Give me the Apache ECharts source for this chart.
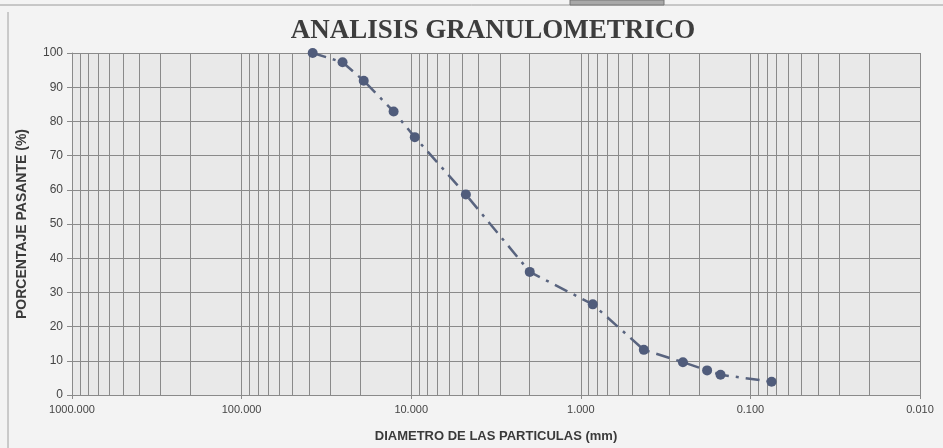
<!DOCTYPE html>
<html>
<head>
<meta charset="utf-8">
<script src="https://cdn.jsdelivr.net/npm/echarts@6/dist/echarts.min.js"></script>
<style>
  html, body { margin: 0; padding: 0; background: #f3f3f3; }
  #chart { width: 943px; height: 448px; }
</style>
</head>
<body>
<div id="chart"></div>
<script>
// Sieve openings (mm) and cumulative percent passing
const diametros = [38.1, 25.4, 19.05, 12.7, 9.525, 4.76, 2.0, 0.85, 0.425, 0.25, 0.18, 0.15, 0.075];
const pasante   = [100, 97.3, 91.9, 82.9, 75.4, 58.6, 36.0, 26.5, 13.2, 9.6, 7.2, 5.9, 3.9];

// Log-paper vertical rulings: 2..9 times each decade between 0.01 and 1000
const decadas = [0.01, 0.1, 1, 10, 100];
const multiplos = [2, 3, 4, 5, 6, 7, 8, 9];

const rulings = [];
decadas.forEach(d => multiplos.forEach(m => rulings.push({ xAxis: +(m * d).toPrecision(6) })));

const chart = echarts.init(document.getElementById('chart'), null, { renderer: 'canvas' });

const gridColor = '#8a8a8a';
const textColor = '#454545';

chart.setOption({
  backgroundColor: '#f3f3f3',
  animation: false,
  title: {
    text: 'ANALISIS GRANULOMETRICO',
    left: 488,
    textAlign: 'center',
    top: 13,
    textStyle: {
      fontFamily: 'Liberation Serif',
      fontWeight: 'bold',
      fontSize: 27,
      color: '#3d3d3d'
    }
  },
  graphic: [
    { type: 'line', shape: { x1: 0, y1: 5, x2: 943, y2: 5 }, style: { stroke: '#9a9a9a', lineWidth: 1 } },
    { type: 'line', shape: { x1: 8, y1: 12, x2: 8, y2: 448 }, style: { stroke: '#a0a0a0', lineWidth: 1 } },
    { type: 'rect', shape: { x: 570, y: 0, width: 94, height: 5 }, style: { fill: '#a8a8a8', stroke: '#777', lineWidth: 1 } }
  ],
  grid: {
    left: 72, right: 23, top: 53, bottom: 51,
    show: true,
    backgroundColor: '#e9e9e9',
    borderWidth: 0
  },
  xAxis: {
    type: 'log',
    logBase: 10,
    min: 0.01,
    max: 1000,
    interval: 1,
    inverse: true,
    name: 'DIAMETRO DE LAS PARTICULAS (mm)',
    nameLocation: 'middle',
    nameGap: 35,
    nameTextStyle: {
      fontFamily: 'Liberation Sans',
      fontWeight: 'bold',
      fontSize: 13,
      color: '#3a3a3a'
    },
    axisLine: { show: true, lineStyle: { color: gridColor, width: 1 } },
    axisTick: { show: true, length: 4, lineStyle: { color: gridColor } },
    axisLabel: {
      fontFamily: 'Liberation Sans',
      fontSize: 11,
      color: textColor,
      margin: 9,
      formatter: v => Number(v).toFixed(3)
    },
    splitLine: { show: true, lineStyle: { color: gridColor, width: 1 } }
  },
  yAxis: {
    type: 'value',
    min: 0,
    max: 100,
    interval: 10,
    name: 'PORCENTAJE PASANTE (%)',
    nameLocation: 'middle',
    nameGap: 43,
    nameTextStyle: {
      fontFamily: 'Liberation Sans',
      fontWeight: 'bold',
      fontSize: 14,
      color: '#3a3a3a'
    },
    axisLine: { show: true, lineStyle: { color: gridColor, width: 1 } },
    axisTick: { show: true, length: 5, lineStyle: { color: gridColor } },
    axisLabel: {
      fontFamily: 'Liberation Sans',
      fontSize: 12,
      color: textColor,
      margin: 9
    },
    splitLine: { show: true, lineStyle: { color: gridColor, width: 1 } }
  },
  series: [{
    type: 'line',
    data: diametros.map((d, i) => [d, pasante[i]]),
    symbol: 'circle',
    symbolSize: 10,
    itemStyle: { color: '#505c7b' },
    lineStyle: { color: '#59647f', width: 2.5, type: [14, 7, 3, 7] },
    markLine: {
      silent: true,
      symbol: ['none', 'none'],
      label: { show: false },
      lineStyle: { color: gridColor, width: 1, type: 'solid' },
      data: rulings,
      z: 1
    }
  }]
});
</script>
</body>
</html>
